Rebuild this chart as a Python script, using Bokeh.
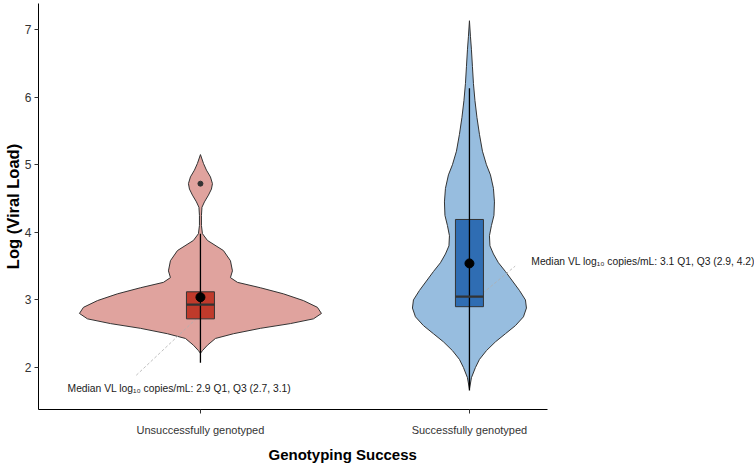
from bokeh.plotting import figure
from bokeh.models import Range1d, FixedTicker, Label, Title
from bokeh.embed import file_html
from bokeh.resources import INLINE

# ---------------- data ----------------
categories = ["Unsuccessfully genotyped", "Successfully genotyped"]
cat_pos = [1, 2]

# violin outlines: value and relative half-width (pixels at reference scale)
unsucc_y = [2.21, 2.25, 2.33, 2.43, 2.50, 2.58, 2.65, 2.72, 2.80, 2.89, 2.99, 3.09,
            3.18, 3.26, 3.33, 3.43, 3.58, 3.73, 3.88, 3.98, 4.10, 4.25, 4.37, 4.45,
            4.55, 4.64, 4.72, 4.82, 4.92, 5.02, 5.15]
unsucc_w = [0, 2, 7, 15, 33, 60, 90, 113, 121, 117, 103, 83,
            60, 37, 30, 32, 30, 23, 7, 2, 1, 1, 1.5, 4,
            8, 11, 12, 10, 6, 3, 0]

succ_y = [1.68, 1.85, 2.00, 2.12, 2.25, 2.38, 2.50, 2.62, 2.75, 2.88, 3.00, 3.14,
          3.28, 3.42, 3.55, 3.68, 3.80, 3.95, 4.10, 4.25, 4.45, 4.65, 4.85, 5.00,
          5.20, 5.45, 5.70, 5.95, 6.20, 6.45, 6.70, 6.90, 7.13]
succ_w = [0, 2, 6, 10, 17, 26, 36, 46, 54, 57, 56, 50,
          43, 36, 29, 24, 20.5, 20, 22, 24.5, 25, 24, 21, 17,
          13, 10, 7.5, 5.5, 4, 3, 2, 1, 0]

q1 = [2.72, 2.90]
median = [2.93, 3.05]
q3 = [3.12, 4.19]
mean = [3.04, 3.54]
line_lo = [2.07, 1.66]
line_hi = [3.98, 6.13]
outlier_cat = [1]
outlier_val = [4.72]

annotations = ["Median VL log\u2081\u2080 copies/mL: 2.9 Q1, Q3 (2.7, 3.1)",
               "Median VL log\u2081\u2080 copies/mL: 3.1 Q1, Q3 (2.9, 4.2)"]
y_ticks = [2, 3, 4, 5, 6, 7]

# ---------------- styles ----------------
FONT = "Liberation Sans"
PX = 269.0  # reference px per x unit
violin_fill = ["#E0A39E", "#97BDDF"]
box_fill = ["#C03A2B", "#2F6DB3"]
outline = "#333333"

X0 = 0.398
p = figure(width=754, height=467, output_backend="svg", toolbar_location=None,
           x_range=Range1d(X0, X0 + 716 / PX), y_range=Range1d(1.379, 7.385),
           min_border_left=38, min_border_right=0, min_border_top=3, min_border_bottom=58)
p.outline_line_color = None
p.grid.grid_line_color = None
p.background_fill_color = "white"

# violins
for c, ys, ws, fc in [(cat_pos[0], unsucc_y, unsucc_w, violin_fill[0]),
                      (cat_pos[1], succ_y, succ_w, violin_fill[1])]:
    xs = [c + w / PX for w in ws] + [c - w / PX for w in reversed(ws)]
    yy = list(ys) + list(reversed(ys))
    p.patch(xs, yy, fill_color=fc, line_color=outline, line_width=1)

# connectors from median to annotation
p.segment(x0=[cat_pos[0] + 0.04, cat_pos[1] + 0.05],
          y0=[median[0], median[1] + 0.05],
          x1=[cat_pos[0] - 0.24, cat_pos[1] + 0.17],
          y1=[1.88, 3.50],
          line_color="#b0b0b0", line_width=0.8, line_dash="3 2")

# boxes
p.quad(left=[c - 14 / PX for c in cat_pos], right=[c + 14 / PX for c in cat_pos],
       bottom=q1, top=q3, fill_color=box_fill, line_color=outline, line_width=1)

# range line
p.segment(x0=cat_pos, y0=line_lo, x1=cat_pos, y1=line_hi, line_color="black", line_width=1.3)

# median
p.segment(x0=[c - 14 / PX for c in cat_pos], y0=median, x1=[c + 14 / PX for c in cat_pos],
          y1=median, line_color=outline, line_width=2.2)

# mean dots + outlier
p.scatter(cat_pos, mean, size=9, color="black")
p.scatter(outlier_cat, outlier_val, size=5, color=outline)

# annotations
ann_pos = [(0.506, 1.69), (2.23, 3.57)]
for (ax, ay), t in zip(ann_pos, annotations):
    p.add_layout(Label(x=ax, y=ay, text=t, text_font=FONT, text_font_size="10.3px",
                       text_color="#1a1a1a", text_align="left", text_baseline="middle"))

# axes
p.xaxis.ticker = FixedTicker(ticks=cat_pos)
p.xaxis.major_label_overrides = {cat_pos[0]: categories[0], cat_pos[1]: categories[1]}
p.xaxis.bounds = (X0, 2.29)
p.yaxis.ticker = FixedTicker(ticks=y_ticks)
for ax in (p.xaxis[0], p.yaxis[0]):
    ax.axis_line_color = "black"
    ax.axis_line_width = 1
    ax.major_tick_line_color = "#333333"
    ax.major_tick_in = 0
    ax.major_tick_out = 4
    ax.minor_tick_line_color = None
    ax.major_label_text_font = FONT
    ax.major_label_text_color = "#333333"
p.xaxis.major_label_text_font_size = "11px"
p.xaxis.major_label_standoff = 10
p.yaxis.major_label_text_font_size = "12px"
p.yaxis.major_label_standoff = 3

# y-axis title
yax = p.yaxis[0]
yax.axis_label = "Log (Viral Load)"
yax.axis_label_text_font = FONT
yax.axis_label_text_font_size = "16.5px"
yax.axis_label_text_font_style = "bold"
yax.axis_label_text_color = "black"
yax.axis_label_standoff = 0

# x-axis title (offset so it sits where the reference has it)
p.add_layout(Title(text="Genotyping Success", align="left", offset=230, text_font=FONT,
                   text_font_size="15px", text_font_style="bold", text_color="black",
                   standoff=10), "below")

open("out.html", "w").write(file_html(p, INLINE))
